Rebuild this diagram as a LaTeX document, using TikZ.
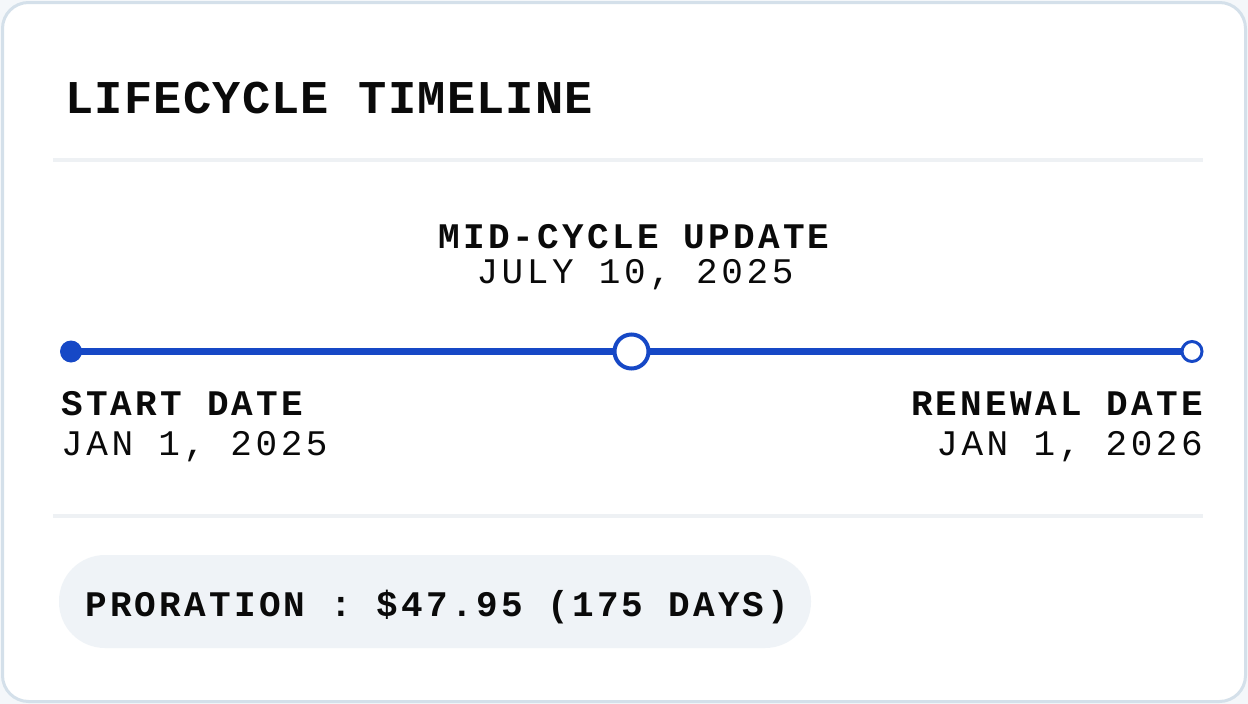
\documentclass[tikz,border=0pt]{standalone}
\usepackage{fontspec}
\newfontfamily\titlefont[LetterSpace=2.7]{Liberation Mono}
\newfontfamily\headfont[LetterSpace=9]{Liberation Mono}
\newfontfamily\datefont[LetterSpace=10]{Liberation Mono}
\definecolor{pagebg}{HTML}{F4F7FA}
\definecolor{cardborder}{HTML}{D4E0EA}
\definecolor{sepline}{HTML}{EEF1F4}
\definecolor{tlblue}{HTML}{1648C6}
\definecolor{pillbg}{HTML}{EFF3F7}
\definecolor{ink}{HTML}{0A0A0A}
\tikzset{
  titletext/.style={inner sep=0pt, text=ink, font=\titlefont\bfseries\fontsize{47}{50}\selectfont},
  headtext/.style={inner sep=0pt, text=ink, font=\headfont\bfseries\fontsize{36}{40}\selectfont},
  datetext/.style={inner sep=0pt, text=ink, font=\datefont\fontsize{36}{40}\selectfont},
  sep/.style={draw=sepline, line width=3.5pt},
  tl/.style={draw=tlblue, line width=7pt},
}
\begin{document}
\begin{tikzpicture}[x=1pt,y=-1pt]
\useasboundingbox (0,0) rectangle (1248,704);
\fill[pagebg] (0,0) rectangle (1248,704);
\draw[cardborder, fill=white, line width=3pt, rounded corners=26pt] (2.5,2.5) rectangle (1245.5,701.5);

\node[titletext, anchor=base west] (title) at (65,113) {LIFECYCLE TIMELINE};

\coordinate (s1a) at (53,160); \coordinate (s1b) at (1203,160);
\draw[sep] (s1a) -- (s1b);
\coordinate (s2a) at (53,516); \coordinate (s2b) at (1203,516);
\draw[sep] (s2a) -- (s2b);

\node[headtext, anchor=base] (midhead) at (634,248) {MID-CYCLE UPDATE};
\node[datetext, anchor=base] (middate) at (635,283) {JULY 10, 2025};

\coordinate (pstart) at (71,351.5);
\coordinate (pmid) at (631.5,351.5);
\coordinate (pend) at (1192,351.5);
\draw[tl] (pstart) -- (pend);
\node[circle, fill=tlblue, minimum size=22pt, inner sep=0pt] (start) at (pstart) {};
\node[circle, fill=white, draw=tlblue, line width=4pt, minimum size=34pt, inner sep=0pt] (mid) at (pmid) {};
\node[circle, fill=white, draw=tlblue, line width=3pt, minimum size=20pt, inner sep=0pt] (end) at (pend) {};

\node[headtext, anchor=base west] (starthead) at (61,415) {START DATE};
\node[datetext, anchor=base west] (startdate) at (61,455) {JAN 1, 2025};
\node[headtext, anchor=base east] (endhead) at (1203,415) {RENEWAL DATE};
\node[datetext, anchor=base east] (enddate) at (1203,455) {JAN 1, 2026};

\fill[pillbg, rounded corners=46pt] (59,555) rectangle (811,648);
\node[headtext, anchor=base west] (pror) at (85,616) {PRORATION : \$47.95 (175 DAYS)};
\end{tikzpicture}
\end{document}
